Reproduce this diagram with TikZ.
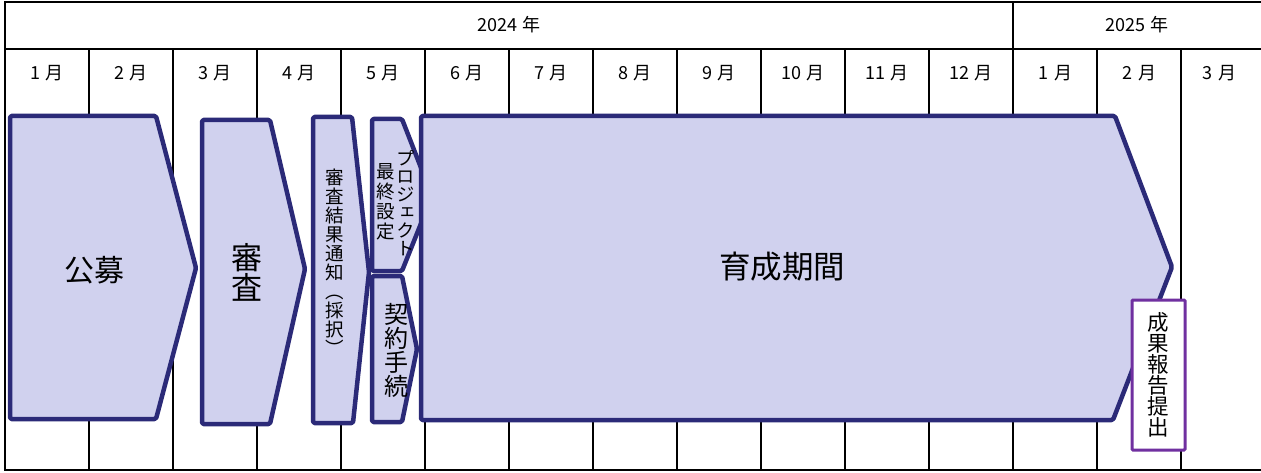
\documentclass[tikz,border=0pt]{standalone}
\usepackage{fontspec}
\setmainfont{Noto Sans CJK JP}
\newfontfamily\vjp[RawFeature=+vert]{Noto Sans CJK JP}
\definecolor{navy}{HTML}{2B2A78}
\definecolor{lav}{HTML}{D0D1EE}
\definecolor{purp}{HTML}{7030A0}
\tikzset{
  gridline/.style={line width=1.8, black},
  frameline/.style={line width=2.8, black},
  phase/.style={draw=navy, fill=lav, line width=4.5, rounded corners=1.5, line join=round},
  monthlbl/.style={font=\fontsize{18}{20}\selectfont, inner sep=0},
  vtext/.style={align=center, inner sep=0},
}
\begin{document}
\begin{tikzpicture}[x=1pt,y=-1pt]
\useasboundingbox (0,0) rectangle (1261,473);
% grid
\draw[gridline] (5,49) -- (1261,49);
\foreach \i in {1,...,14} \draw[gridline] ({5+84*\i},49) -- ({5+84*\i},470);
\draw[gridline] (1013,2) -- (1013,49);
\draw[frameline] (1261,2) -- (5,2) -- (5,470) -- (1261,470);
% year labels
\node[monthlbl] (y2024) at (509,25) {2024\hspace{5pt}年};
\node[monthlbl] (y2025) at (1137,25) {2025\hspace{5pt}年};
% month labels
\foreach \m [count=\i from 0] in {1,2,3,4,5,6,7,8,9,10,11,12,1,2}
  \node[monthlbl] (m\i) at ({47+84*\i},73) {\m\hspace{6pt}月};
\node[monthlbl] (m14) at (1219,73) {3\hspace{6pt}月};
% phases
\draw[phase] (10,116) -- (156,116) -- (196,268) -- (156,419) -- (10,419) -- cycle;
\draw[phase] (202,120) -- (270,120) -- (305,269) -- (270,424) -- (202,424) -- cycle;
\draw[phase] (313,117) -- (352,117) -- (369,272) -- (353,423) -- (313,423) -- cycle;
\draw[phase] (372,119) -- (402,119) -- (432,196) -- (402,271) -- (372,271) -- cycle;
\draw[phase] (372,276) -- (402,276) -- (417,349) -- (402,422) -- (372,422) -- cycle;
\draw[phase] (421,116) -- (1115,116) -- (1172,267) -- (1113,420) -- (421,420) -- cycle;
% texts
\node[inner sep=0, font=\fontsize{30}{32}\selectfont] (koubo) at (94,270) {公募};
\node[vtext, font=\fontsize{31}{30}\selectfont] (shinsa) at (247,272) {審\\査};
\node[vtext, font=\vjp\fontsize{18.5}{19}\selectfont] (kekka) at (335,262) {審\\査\\結\\果\\通\\知\\（\\採\\択\\）};
\node[vtext, font=\vjp\fontsize{18.5}{18}\selectfont] (pj) at (406,203) {プ\\ロ\\ジ\\ェ\\ク\\ト};
\node[vtext, font=\vjp\fontsize{18.5}{20}\selectfont] (saishu) at (386,202) {最\\終\\設\\定};
\node[vtext, font=\fontsize{24}{24}\selectfont] (keiyaku) at (396,350) {契\\約\\手\\続};
\node[inner sep=0, font=\fontsize{31.5}{34}\selectfont] (ikusei) at (782,267) {育成期間};
\node[draw=purp, line width=3, fill=white, rounded corners=1, minimum width=53, minimum height=150, vtext, font=\fontsize{21.5}{21}\selectfont] (houkoku) at (1158.5,375) {成\\果\\報\\告\\提\\出};
\end{tikzpicture}
\end{document}
